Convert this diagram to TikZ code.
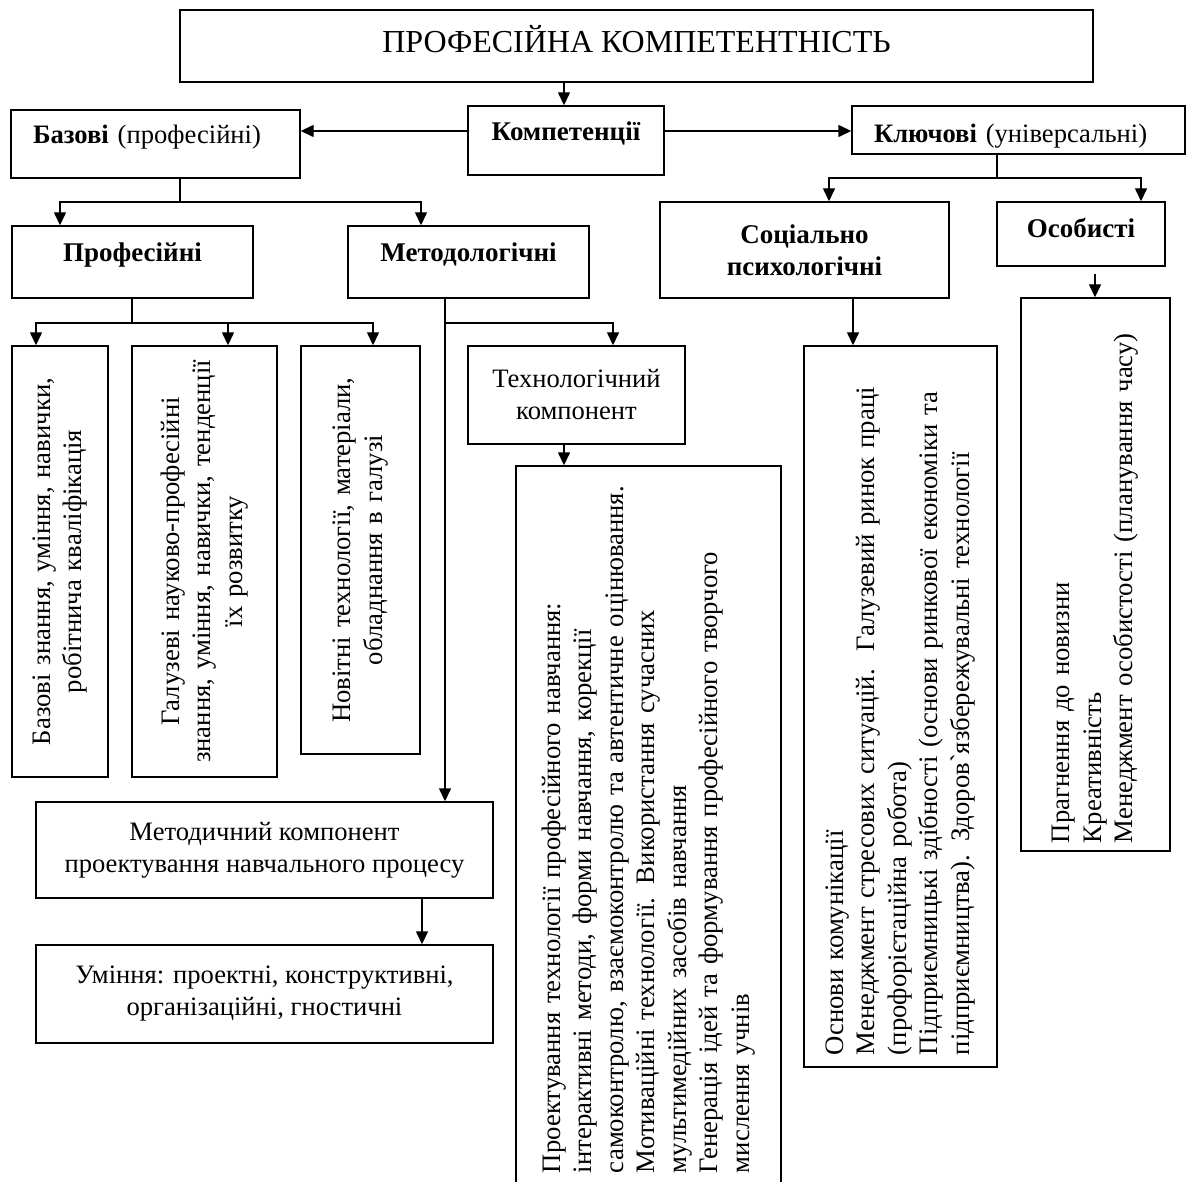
\documentclass[tikz,border=0pt]{standalone}
\usepackage{fontspec}
\setmainfont{Liberation Serif}
\usetikzlibrary{arrows.meta}

\begin{document}
\begin{tikzpicture}
[
    x=1pt, y=-1pt,
    line width=1.4pt,
    box/.style={draw, line width=1.4pt, inner sep=4pt, align=center, font=\fontsize{26.6}{32}\selectfont},
    bbox/.style={box, font=\fontsize{27}{32}\bfseries\selectfont},
    vbox/.style={draw, line width=1.4pt, rotate=90, inner sep=4pt, font=\fontsize{26.7}{31.5}\selectfont},
    arr/.style={-{Triangle[length=13pt,width=12pt]}, line width=1.4pt},
]
\useasboundingbox (0,0) rectangle (1187,1182);

\node[box, minimum width=913pt, minimum height=72pt, text depth=14pt, font=\fontsize{32}{36}\selectfont] (top) at (636.5,46) {ПРОФЕСІЙНА КОМПЕТЕНТНІСТЬ};
\node[bbox, minimum width=196pt, minimum height=69pt, text depth=19pt] (komp) at (566,140.5) {Компетенції};
\node[box, minimum width=289pt, minimum height=68pt, text width=245pt, inner xsep=22pt, align=left, text depth=19pt] (bazovi) at (155.5,144) {\textbf{Базові} (професійні)};
\node[box, minimum width=333pt, minimum height=48pt, text width=289pt, inner xsep=22pt, align=left, text height=31pt] (kliuch) at (1018.5,130) {\textbf{Ключові} (універсальні)};

\node[bbox, minimum width=241pt, minimum height=72pt, text depth=19pt] (prof) at (132.5,262) {Професійні};
\node[bbox, minimum width=241pt, minimum height=72pt, text depth=19pt] (metodol) at (468.5,262) {Методологічні};
\node[bbox, minimum width=289pt, minimum height=96pt] (soc) at (804.5,250) {Соціально\\психологічні};
\node[bbox, minimum width=168pt, minimum height=64pt, text depth=12pt] (osob) at (1081,234) {Особисті};

\node[vbox, minimum width=431pt, minimum height=96pt, text width=420pt, align=center] (b1) at (60,561.5) {Базові знання, уміння, навички,\\робітнича кваліфікація};
\node[vbox, minimum width=431pt, minimum height=145pt, text width=420pt, align=center] (b2) at (204.5,561.5) {Галузеві науково-професійні\\знання, уміння, навички, тенденції\\їх розвитку};
\node[vbox, minimum width=408pt, minimum height=119pt, text width=398pt, align=center] (b3) at (360.5,550) {Новітні технології, матеріали,\\обладнання в галузі};

\node[box, minimum width=217pt, minimum height=98pt] (tech) at (576.5,395) {Технологічний\\компонент};
\node[vbox, minimum width=717pt, minimum height=265pt, text width=697pt, inner xsep=10pt, align=left] (big) at (648.5,824.5) {Проектування технології професійного навчання:\\інтерактивні методи, форми навчання, корекції\\самоконтролю, взаємоконтролю та автентичне оцінювання.\\Мотиваційні технології. Використання сучасних\\мультимедійних засобів навчання\\Генерація ідей та формування професійного творчого\\мислення учнів};

\node[box, minimum width=457pt, minimum height=96pt] (metodych) at (264.5,850) {Методичний компонент\\проектування навчального процесу};
\node[box, minimum width=457pt, minimum height=98pt] (umin) at (264.5,994) {Уміння: проектні, конструктивні,\\організаційні, гностичні};

\node[vbox, minimum width=721pt, minimum height=193pt, text width=697pt, inner xsep=12pt, align=left] (socl) at (900.5,706.5) {Основи комунікації\\Менеджмент стресових ситуацій.\ \ Галузевий ринок праці\\(профорієтаційна робота)\\Підприємницькі здібності (основи ринкової економіки та\\підприємництва). Здоров\textasciigrave язбережувальні технології};
\node[vbox, minimum width=553pt, minimum height=149pt, text width=537pt, inner xsep=8pt, align=left] (osobl) at (1095.5,574.5) {Прагнення до новизни\\Креативність\\Менеджмент особистості (планування часу)};

\draw[arr] (top.south -| 564,0) -- (komp.north -| 564,0);
\draw[arr] (komp.west |- 0,131) -- (bazovi.east |- 0,131);
\draw[arr] (komp.east |- 0,131) -- (kliuch.west |- 0,131);

\draw (bazovi.south -| 180,0) -- (180,202) coordinate (jb);
\draw[arr] (jb) -| (prof.north -| 60,0);
\draw[arr] (jb) -| (metodol.north -| 421,0);

\draw (kliuch.south -| 997,0) -- (997,178) coordinate (jk);
\draw[arr] (jk) -| (soc.north -| 829,0);
\draw[arr] (jk) -| (osob.north -| 1141,0);

\draw (prof.south -| 132,0) -- (132,323) coordinate (jp);
\draw[arr] (jp) -| (b1.east -| 36,0);
\draw[arr] (jp) -| (b2.east -| 228,0);
\draw[arr] (jp) -| (b3.east -| 373,0);

\draw[arr] (metodol.south -| 445,0) -- (metodych.north -| 445,0);
\coordinate (jm) at (445,323);
\draw[arr] (jm) -| (tech.north -| 613,0);
\draw[arr] (tech.south -| 564,0) -- (big.east -| 564,0);
\draw[arr] (metodych.south -| 422,0) -- (umin.north -| 422,0);

\draw[arr] (soc.south -| 853,0) -- (socl.east -| 853,0);
\draw[arr] (osob.south -| 1095,0) ++(0,7) -- (osobl.east -| 1095,0);
\end{tikzpicture}
\end{document}
